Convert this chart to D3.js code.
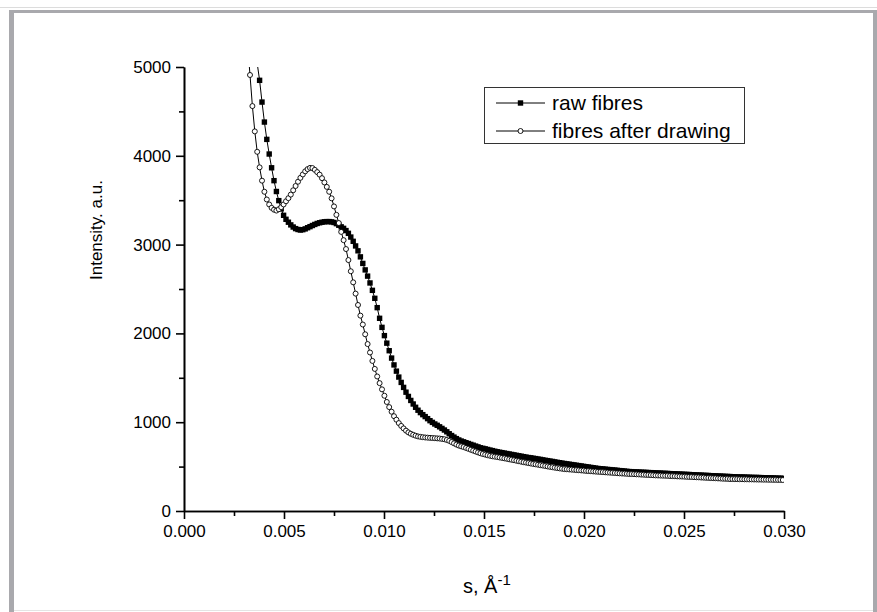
<!DOCTYPE html>
<html lang="en">
<head>
  <meta charset="utf-8">
  <title>Intensity vs s: raw fibres and fibres after drawing</title>
  <script type="text/javascript" src="https://cdn.jsdelivr.net/npm/d3@7"></script>
  <style type="text/css">
    body {
      margin: 0;
      background: #fff;
    }
    svg text {
      font-family: "Liberation Sans", Arial, sans-serif;
      fill: #000;
    }
  </style>
</head>
<body>

<div id="chart"></div>

<script type="text/javascript">

const w = 877;
const h = 612;

// scattering vector s, 1/Angstrom (same sampling for both curves)
const sValues = [
  0.00306,0.00318,0.00330,0.00342,0.00354,0.00366,0.00378,0.00390,0.00402,0.00414,
  0.00426,0.00438,0.00450,0.00462,0.00474,0.00486,0.00498,0.00510,0.00522,0.00534,
  0.00546,0.00558,0.00570,0.00582,0.00594,0.00606,0.00618,0.00630,0.00642,0.00654,
  0.00666,0.00678,0.00690,0.00702,0.00714,0.00726,0.00738,0.00750,0.00762,0.00774,
  0.00786,0.00798,0.00810,0.00822,0.00834,0.00846,0.00858,0.00870,0.00882,0.00894,
  0.00906,0.00918,0.00930,0.00942,0.00954,0.00966,0.00978,0.00990,0.01002,0.01014,
  0.01026,0.01038,0.01050,0.01062,0.01074,0.01086,0.01098,0.01110,0.01122,0.01134,
  0.01146,0.01158,0.01170,0.01182,0.01194,0.01206,0.01218,0.01230,0.01242,0.01254,
  0.01266,0.01278,0.01290,0.01302,0.01314,0.01326,0.01338,0.01350,0.01362,0.01374,
  0.01386,0.01398,0.01410,0.01422,0.01434,0.01446,0.01458,0.01470,0.01482,0.01494,
  0.01506,0.01518,0.01530,0.01542,0.01554,0.01566,0.01578,0.01590,0.01602,0.01614,
  0.01626,0.01638,0.01650,0.01662,0.01674,0.01686,0.01698,0.01710,0.01722,0.01734,
  0.01746,0.01758,0.01770,0.01782,0.01794,0.01806,0.01818,0.01830,0.01842,0.01854,
  0.01866,0.01878,0.01890,0.01902,0.01914,0.01926,0.01938,0.01950,0.01962,0.01974,
  0.01986,0.01998,0.02010,0.02022,0.02034,0.02046,0.02058,0.02070,0.02082,0.02094,
  0.02106,0.02118,0.02130,0.02142,0.02154,0.02166,0.02178,0.02190,0.02202,0.02214,
  0.02226,0.02238,0.02250,0.02262,0.02274,0.02286,0.02298,0.02310,0.02322,0.02334,
  0.02346,0.02358,0.02370,0.02382,0.02394,0.02406,0.02418,0.02430,0.02442,0.02454,
  0.02466,0.02478,0.02490,0.02502,0.02514,0.02526,0.02538,0.02550,0.02562,0.02574,
  0.02586,0.02598,0.02610,0.02622,0.02634,0.02646,0.02658,0.02670,0.02682,0.02694,
  0.02706,0.02718,0.02730,0.02742,0.02754,0.02766,0.02778,0.02790,0.02802,0.02814,
  0.02826,0.02838,0.02850,0.02862,0.02874,0.02886,0.02898,0.02910,0.02922,0.02934,
  0.02946,0.02958,0.02970,0.02982,0.02994
];

// raw fibres (filled squares)
const rawFibres = [
  7200,6600,6100,5650,5300,5040,4850,4605,4380,4185,
  4020,3865,3720,3598,3495,3402,3330,3285,3252,3222,
  3198,3180,3170,3164,3168,3177,3190,3202,3215,3227,
  3238,3246,3252,3257,3259,3259,3256,3249,3236,3218,
  3200,3183,3158,3127,3085,3037,2985,2930,2862,2788,
  2715,2645,2568,2485,2395,2290,2170,2068,1975,1890,
  1805,1722,1645,1575,1508,1448,1392,1338,1290,1245,
  1205,1168,1135,1108,1085,1063,1040,1017,998,980,
  965,948,930,912,892,870,850,832,815,800,
  788,779,769,760,750,741,731,722,712,706,
  700,693,686,680,673,667,662,657,652,647,
  642,637,632,627,622,617,612,607,602,599,
  594,590,585,581,576,571,567,562,558,553,
  548,544,539,535,531,527,523,519,515,511,
  507,503,499,495,491,487,483,479,476,474,
  471,468,466,463,461,458,455,453,450,447,
  444,443,441,440,439,437,436,435,433,432,
  431,429,428,427,425,424,423,421,420,419,
  417,416,415,413,412,411,409,408,406,405,
  404,402,401,400,398,397,396,394,393,392,
  390,389,388,386,385,384,383,383,382,381,
  380,379,378,378,377,376,375,374,373,373,
  372,371,370,369,368
];

// fibres after drawing (open circles)
const afterDrawing = [
  5700,5250,4910,4560,4275,4045,3870,3720,3595,3508,
  3452,3414,3393,3383,3398,3422,3452,3488,3523,3563,
  3612,3660,3708,3752,3790,3825,3850,3864,3862,3842,
  3816,3788,3748,3700,3650,3595,3521,3430,3335,3243,
  3143,3050,2950,2826,2700,2575,2448,2320,2200,2100,
  1990,1880,1785,1690,1600,1515,1440,1370,1298,1228,
  1170,1118,1068,1028,990,958,930,905,885,870,
  858,848,840,835,831,828,826,824,822,820,
  818,816,812,808,800,790,776,762,748,737,
  728,720,710,700,690,680,670,660,650,642,
  635,628,622,616,612,608,603,598,593,588,
  582,577,572,566,561,555,550,545,540,535,
  530,526,521,516,512,507,502,497,493,488,
  484,480,476,472,470,468,466,464,461,459,
  457,455,452,450,448,446,444,442,440,438,
  436,434,432,430,428,426,424,422,421,419,
  417,416,415,413,412,410,409,407,406,404,
  403,401,400,399,398,397,396,394,393,392,
  390,389,388,387,385,384,383,381,380,379,
  377,376,374,373,371,370,369,367,366,364,
  363,362,360,360,359,359,358,358,357,357,
  356,356,355,355,354,354,353,353,352,352,
  351,351,350,350,349
];

const xTicks = [0, 0.005, 0.010, 0.015, 0.020, 0.025, 0.030];
const xMinorTicks = [0.0025, 0.0075, 0.0125, 0.0175, 0.0225, 0.0275];
const yTicks = [0, 1000, 2000, 3000, 4000, 5000];
const yMinorTicks = [500, 1500, 2500, 3500, 4500];
const seriesNames = ["raw fibres", "fibres after drawing"];

const margin = {left: 184, right: 93, top: 67, bottom: 101};

const svg = d3.select("#chart")
  .append("svg")
  .attr("width", w)
  .attr("height", h);

// page frame around the figure
svg.append("line")
  .attr("x1", 0).attr("x2", w)
  .attr("y1", 7.5).attr("y2", 7.5)
  .attr("stroke", "#dcdcdc");
svg.append("rect")
  .attr("x", 9).attr("y", 10)
  .attr("width", w - 9).attr("height", h - 10)
  .attr("fill", "#a9a9ad");
svg.append("rect")
  .attr("x", 14).attr("y", 13)
  .attr("width", w - 14 - 4).attr("height", h - 13)
  .attr("fill", "#fff");
svg.append("line")
  .attr("x1", 14).attr("x2", w - 4)
  .attr("y1", 610.5).attr("y2", 610.5)
  .attr("stroke", "#e4e4e4");

const x = d3.scaleLinear()
  .domain([0, 0.030])
  .range([margin.left, w - margin.right]);

const y = d3.scaleLinear()
  .domain([0, 5000])
  .range([h - margin.bottom, margin.top]);

// minor ticks
svg.append("g")
  .attr("class", "axis")
  .attr("transform", "translate(0," + (h - margin.bottom) + ")")
  .call(d3.axisBottom(x).tickValues(xMinorTicks).tickSize(5).tickSizeOuter(0).tickFormat(""));
svg.append("g")
  .attr("class", "axis")
  .attr("transform", "translate(" + margin.left + ",0)")
  .call(d3.axisLeft(y).tickValues(yMinorTicks).tickSize(5).tickSizeOuter(0).tickFormat(""));

// major ticks + labels
svg.append("g")
  .attr("class", "axis")
  .attr("transform", "translate(0," + (h - margin.bottom) + ")")
  .call(d3.axisBottom(x).tickValues(xTicks).tickSize(8).tickSizeOuter(0)
    .tickPadding(6).tickFormat(d3.format(".3f")));

svg.append("g")
  .attr("class", "axis")
  .attr("transform", "translate(" + margin.left + ",0)")
  .call(d3.axisLeft(y).tickValues(yTicks).tickSize(8).tickSizeOuter(0)
    .tickPadding(5).tickFormat(d3.format("d")));

svg.selectAll(".axis path, .axis line")
  .attr("stroke", "#000")
  .attr("stroke-width", 1.6);
svg.selectAll(".axis text")
  .attr("font-size", 17)
  .style("font-family", "'Liberation Sans', Arial, sans-serif");

// axis titles
svg.append("text")
  .attr("transform", "translate(102,280) rotate(-90)")
  .attr("text-anchor", "start")
  .attr("font-size", 17)
  .text("Intensity. a.u.");

const xTitle = svg.append("text")
  .attr("x", 463)
  .attr("y", 593)
  .attr("font-size", 20)
  .text("s, Å");
xTitle.append("tspan")
  .attr("dy", -8)
  .attr("font-size", 15)
  .text("-1");

// data
svg.append("clipPath").attr("id", "plot-clip")
  .append("rect")
  .attr("x", margin.left)
  .attr("y", margin.top)
  .attr("width", w - margin.left - margin.right)
  .attr("height", h - margin.top - margin.bottom);

const rawData = sValues.map((s, i) => ({s: s, v: rawFibres[i]}));
const drawnData = sValues.map((s, i) => ({s: s, v: afterDrawing[i]}));

const line = d3.line()
  .x(d => x(d.s))
  .y(d => y(d.v));

const plot = svg.append("g").attr("clip-path", "url(#plot-clip)");

plot.append("path")
  .datum(rawData)
  .attr("fill", "none")
  .attr("stroke", "#000")
  .attr("stroke-width", 1)
  .attr("d", line);

plot.selectAll("rect.raw")
  .data(rawData.filter(d => d.v <= 5000))
  .enter()
  .append("rect")
  .attr("class", "raw")
  .attr("x", d => x(d.s) - 2.7)
  .attr("y", d => y(d.v) - 2.7)
  .attr("width", 5.4)
  .attr("height", 5.4)
  .attr("fill", "#000");

plot.append("path")
  .datum(drawnData)
  .attr("fill", "none")
  .attr("stroke", "#000")
  .attr("stroke-width", 1)
  .attr("d", line);

plot.selectAll("circle.drawn")
  .data(drawnData.filter(d => d.v <= 5000))
  .enter()
  .append("circle")
  .attr("class", "drawn")
  .attr("cx", d => x(d.s))
  .attr("cy", d => y(d.v))
  .attr("r", 2.5)
  .attr("fill", "#fff")
  .attr("stroke", "#000")
  .attr("stroke-width", 0.9);

// legend
const legend = svg.append("g")
  .attr("class", "legend")
  .attr("transform", "translate(484,87)");

legend.append("rect")
  .attr("x", 0.5)
  .attr("y", 0.5)
  .attr("width", 260)
  .attr("height", 56)
  .attr("fill", "#fff")
  .attr("stroke", "#333")
  .attr("stroke-width", 1);

const rows = legend.selectAll("g.row")
  .data(seriesNames)
  .enter()
  .append("g")
  .attr("class", "row")
  .attr("transform", (d, i) => "translate(0," + (16 + i * 28) + ")");

rows.append("line")
  .attr("x1", 12).attr("x2", 61)
  .attr("y1", 0).attr("y2", 0)
  .attr("stroke", "#000");

rows.filter((d, i) => i === 0).append("rect")
  .attr("x", 33.8).attr("y", -2.7)
  .attr("width", 5.4).attr("height", 5.4)
  .attr("fill", "#000");

rows.filter((d, i) => i === 1).append("circle")
  .attr("cx", 36.5).attr("cy", 0)
  .attr("r", 2.5)
  .attr("fill", "#fff")
  .attr("stroke", "#000")
  .attr("stroke-width", 0.9);

rows.append("text")
  .attr("x", 68)
  .attr("y", 7)
  .attr("font-size", 21)
  .text(d => d);

</script>

</body>
</html>
